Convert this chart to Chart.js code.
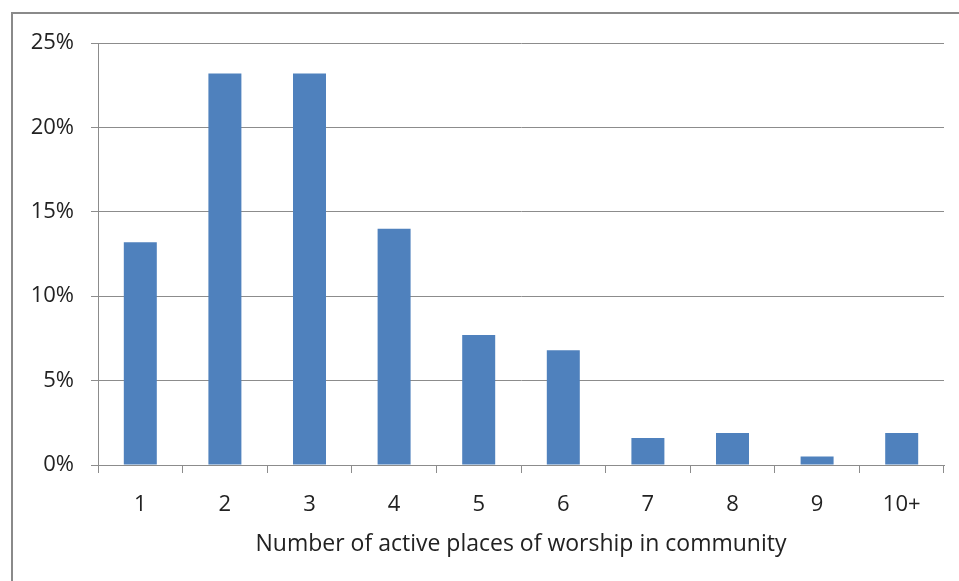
<!DOCTYPE html>
<html>
<head>
<meta charset="utf-8">
<script src="https://cdn.jsdelivr.net/npm/chart.js@4"></script>
<style>
  html, body { margin: 0; padding: 0; background: #fff; overflow: hidden; }
  #frame { position: absolute; left: 11px; top: 12px; width: 1000px; height: 1000px; border: 2px solid #8a8a8a; }
  #wrap { position: absolute; left: 0; top: 0; width: 959px; height: 581px; }
</style>
</head>
<body>
<div id="frame"></div>
<div id="wrap"><canvas id="chart"></canvas></div>
<script>
// --- donnees ---
const categories = ['1', '2', '3', '4', '5', '6', '7', '8', '9', '10+'];
const shares = [13.2, 23.2, 23.2, 14.0, 7.7, 6.8, 1.6, 1.9, 0.5, 1.9];
const xTitle = 'Number of active places of worship in community';

const gridGray = '#8c8c8c';
const txt = '#222';
const font = '"Open Sans", Lato, sans-serif';

new Chart(document.getElementById('chart'), {
  type: 'bar',
  data: {
    labels: categories,
    datasets: [{
      data: shares,
      backgroundColor: '#4F81BD',
      borderWidth: 0,
      barPercentage: 0.39,
      categoryPercentage: 1
    }]
  },
  options: {
    responsive: true,
    maintainAspectRatio: false,
    animation: false,
    layout: { padding: { left: 0, top: 43, right: 15, bottom: 0 } },
    plugins: { legend: { display: false }, tooltip: { enabled: false } },
    scales: {
      x: {
        grid: { offset: true, drawOnChartArea: false, drawTicks: true, tickLength: 8, color: gridGray },
        border: { color: gridGray },
        ticks: { color: txt, font: { family: font, size: 22 }, padding: 19, maxRotation: 0 },
        title: { display: true, text: xTitle, color: txt, font: { family: font, size: 23 }, padding: { top: 0, bottom: 23 } },
        afterFit: (s) => { s.height = 116; }
      },
      y: {
        min: 0, max: 25,
        grid: { color: gridGray, tickLength: 7 },
        border: { color: gridGray },
        ticks: { stepSize: 5, color: txt, font: { family: font, size: 22 }, padding: 17, callback: v => v + '%' },
        afterFit: (s) => { s.width = 98; }
      }
    }
  }
});
</script>
</body>
</html>
